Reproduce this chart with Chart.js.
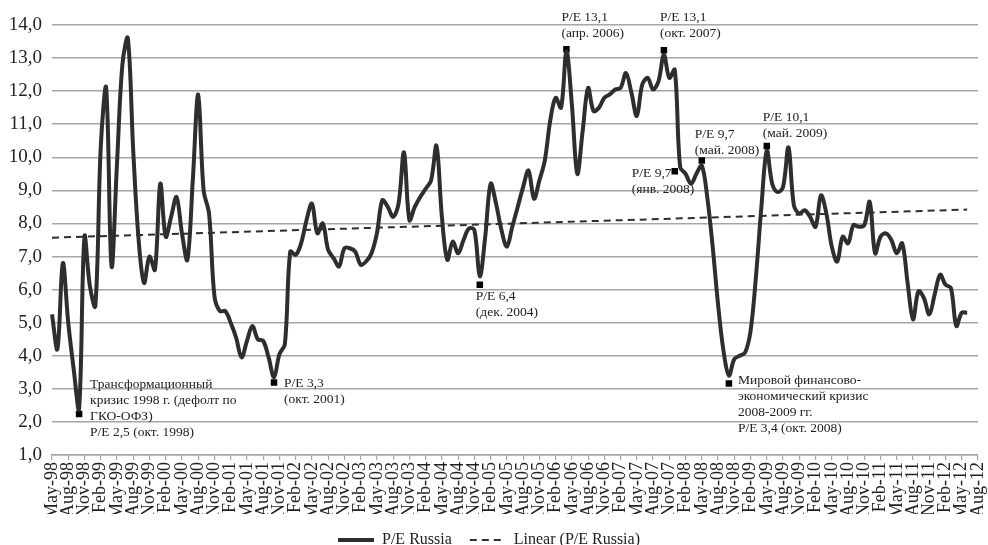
<!DOCTYPE html>
<html>
<head>
<meta charset="utf-8">
<script src="https://cdn.jsdelivr.net/npm/chart.js@4.4.1/dist/chart.umd.min.js"></script>
<style>
	html, body { margin: 0; padding: 0; background: #fff; }
	#peChart { display: block; }
</style>
</head>
<body>
<canvas id="peChart" width="988" height="545"></canvas>
<script>
	const firstYear = 1998, firstMonth = 4, monthCount = 172;
	const monthNames = ['Jan','Feb','Mar','Apr','May','Jun','Jul','Aug','Sep','Oct','Nov','Dec'];

	// P/E Russia, monthly, May-98 .. Jun-12
	const peRussia = [
		5.25, 4.2, 6.8, 5.0, 3.6, 2.4, 7.6, 6.1, 5.5, 10.3,
		12.1, 6.7, 9.8, 12.8, 13.6, 10.2, 7.5, 6.2, 7.0, 6.6,
		9.2, 7.6, 8.2, 8.8, 7.7, 6.9, 9.3, 11.9, 9.0, 8.3,
		5.8, 5.35, 5.35, 5.0, 4.55, 3.95, 4.45, 4.9, 4.5, 4.45,
		3.95, 3.35, 4.05, 4.35, 7.15, 7.05, 7.4, 8.1, 8.6, 7.7,
		8.0, 7.2, 6.95, 6.7, 7.25, 7.25, 7.15, 6.75, 6.85, 7.1,
		7.7, 8.7, 8.5, 8.2, 8.6, 10.15, 8.1, 8.5, 8.8, 9.05,
		9.3, 10.35, 8.2, 6.9, 7.45, 7.1, 7.5, 7.85, 7.8, 6.4,
		7.6, 9.2, 8.6, 7.8, 7.3, 7.9, 8.5, 9.1, 9.6, 8.75,
		9.3, 9.9, 11.1, 11.8, 11.5, 13.2, 11.6, 9.5, 10.8, 12.1,
		11.4, 11.5, 11.8, 11.9, 12.05, 12.1, 12.55, 11.95, 11.25, 12.2,
		12.4, 12.05, 12.3, 13.1, 12.4, 12.65, 9.7, 9.5, 9.2, 9.5,
		9.75, 8.8, 7.3, 5.55, 4.15, 3.4, 3.9, 4.0, 4.1, 4.75,
		6.4, 8.5, 10.2, 9.2, 8.95, 9.1, 10.3, 8.55, 8.3, 8.4,
		8.2, 7.9, 8.85, 8.3, 7.3, 6.85, 7.6, 7.4, 7.95, 7.9,
		7.95, 8.65, 7.1, 7.6, 7.7, 7.5, 7.1, 7.4, 6.2, 5.1,
		5.95, 5.75, 5.25, 5.85, 6.45, 6.15, 6.05, 4.9, 5.3, 5.3
	];

	// Linear trend end points
	const trendIdx = [0, 169];
	const trendVal = [7.57, 8.42];

	// annotated points
	const noteIdx = [5, 41, 79, 95, 113, 115, 120, 125, 132];
	const noteVal = [2.24, 3.19, 6.15, 13.27, 13.24, 9.58, 9.9, 3.16, 10.34];
	const noteText = [
		['Трансформационный', 'кризис 1998 г. (дефолт по', 'ГКО-ОФЗ)', 'P/E 2,5 (окт. 1998)'],
		['P/E 3,3', '(окт. 2001)'],
		['P/E 6,4', '(дек. 2004)'],
		['P/E 13,1', '(апр. 2006)'],
		['P/E 13,1', '(окт. 2007)'],
		['P/E 9,7', '(янв. 2008)'],
		['P/E 9,7', '(май. 2008)'],
		['Мировой финансово-', 'экономический кризис', '2008-2009 гг.', 'P/E 3,4 (окт. 2008)'],
		['P/E 10,1', '(май. 2009)']
	];
	// text offset from the marker, px
	const noteOffset = [[11, -30], [10, 1], [-4, 12], [-5, -32], [-4, -33], [-43, 2], [-7, -26], [9, -3], [-4, -29]];

	const serif = '"Liberation Serif", "Times New Roman", serif';
	const ink = '#2e2e2e';

	let labels = [];
	for (let i = 0; i < monthCount; i++) {
		let m = (firstMonth + i) % 12;
		let y = firstYear + Math.floor((firstMonth + i) / 12);
		labels.push(monthNames[m] + '-' + String(y).slice(2));
	}

	let trend = labels.map(function(l, i){
		let k = trendIdx.indexOf(i);
		return k >= 0 ? trendVal[k] : null;
	});

	let markers = labels.map(function(l, i){
		let k = noteIdx.indexOf(i);
		return k >= 0 ? noteVal[k] : null;
	});

	const notesPlugin = {
		id: 'notes',
		afterDatasetsDraw(chart){
			const ctx = chart.ctx;
			const xs = chart.scales.x, ys = chart.scales.y;
			ctx.save();
			ctx.font = '13.5px ' + serif;
			ctx.fillStyle = '#222';
			ctx.textBaseline = 'middle';
			ctx.textAlign = 'left';
			noteText.forEach(function(lines, k){
				let px = xs.getPixelForValue(noteIdx[k]) + noteOffset[k][0];
				let py = ys.getPixelForValue(noteVal[k]) + noteOffset[k][1];
				lines.forEach(function(t, j){
					ctx.fillText(t, px, py + j * 16);
				});
			});
			ctx.restore();
		}
	};

	new Chart('peChart', {
		type: 'line',
		data: {
			labels: labels,
			datasets: [{
				label: 'P/E Russia',
				data: peRussia,
				borderColor: ink,
				backgroundColor: ink,
				borderWidth: 4,
				pointRadius: 0,
				tension: 0.35,
				fill: false
			},
			{
				label: 'Linear (P/E Russia)',
				data: trend,
				borderColor: ink,
				backgroundColor: ink,
				borderWidth: 2,
				borderDash: [7, 5],
				pointRadius: 0,
				spanGaps: true,
				tension: 0,
				fill: false
			},
			{
				label: 'notes',
				data: markers,
				showLine: false,
				pointStyle: 'rect',
				pointRadius: 4.6,
				pointBackgroundColor: '#000',
				pointBorderWidth: 0
			}]
		},
		options: {
			responsive: false,
			animation: false,
			layout: { padding: { top: 25, right: 10, left: 0, bottom: -13 } },
			plugins: {
				legend: {
					display: true,
					position: 'bottom',
					labels: {
						filter: function(item){ return item.datasetIndex < 2; },
						generateLabels: function(chart){
							let items = Chart.defaults.plugins.legend.labels.generateLabels(chart);
							items.forEach(function(it){
								let ds = chart.data.datasets[it.datasetIndex];
								it.lineDash = ds.borderDash || [];
								it.lineWidth = ds.borderWidth;
								it.strokeStyle = ds.borderColor;
							});
							return items;
						},
						color: '#222',
						font: { family: serif, size: 16 },
						usePointStyle: true,
						pointStyle: 'line',
						pointStyleWidth: 36,
						boxHeight: 10,
						padding: 18
					}
				},
				tooltip: { enabled: false }
			},
			scales: {
				x: {
					offset: false,
					afterFit(scale){
						scale.height = 59;
						scale.paddingLeft = 0;
						scale.paddingRight = 0;
					},
					border: { display: true, color: '#a6a6a6', width: 1.5 },
					grid: {
						drawOnChartArea: false,
						drawTicks: true,
						tickLength: 5,
						lineWidth: 1.2,
						color: function(c){ return c.index % 3 === 0 ? '#a6a6a6' : 'transparent'; }
					},
					ticks: {
						autoSkip: false,
						minRotation: 90,
						maxRotation: 90,
						padding: 2,
						color: '#222',
						font: { family: serif, size: 18 },
						callback: function(v, i){ return i % 3 === 0 ? labels[i] : ''; }
					}
				},
				y: {
					min: 1,
					max: 14,
					afterFit(scale){ scale.width = 52; },
					border: { display: false },
					grid: { color: '#a6a6a6', lineWidth: 1.5, drawTicks: false },
					ticks: {
						stepSize: 1,
						padding: 10,
						color: '#222',
						font: { family: serif, size: 19 },
						callback: function(v){ return v.toFixed(1).replace('.', ','); }
					}
				}
			}
		},
		plugins: [notesPlugin]
	});
</script>
</body>
</html>
